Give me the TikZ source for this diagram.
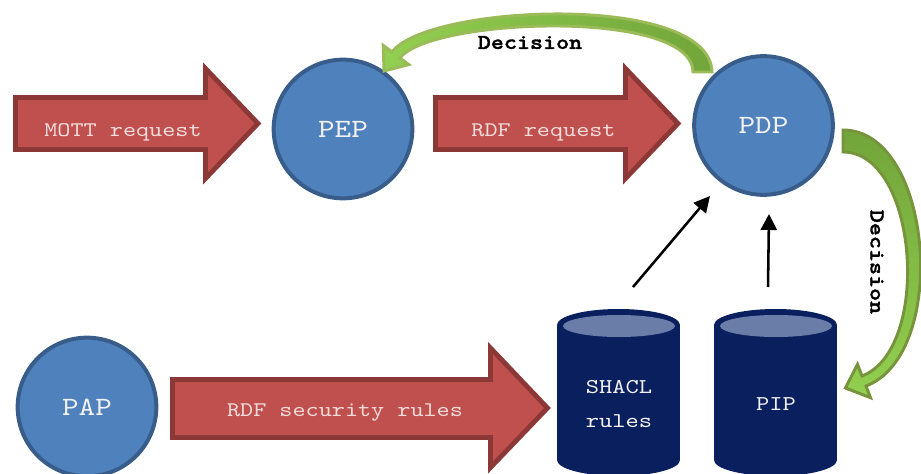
\documentclass[tikz,border=0pt]{standalone}
\usepackage{fontspec}
\setmainfont{Liberation Mono}
\newfontfamily\cour{lmmono10-regular.otf}[FakeStretch=1.2]
\newfontfamily\courb{lmmonolt10-bold.otf}[FakeStretch=1.18,FakeBold=1.5]
\usetikzlibrary{arrows.meta}
\definecolor{circfill}{HTML}{4F81BD}
\definecolor{circline}{HTML}{385D8A}
\definecolor{redfill}{HTML}{C0504D}
\definecolor{redline}{HTML}{8C3836}
\definecolor{navy}{HTML}{0A1F5E}
\definecolor{cyltop}{HTML}{6A7DA8}
\definecolor{gline}{HTML}{9BBB59}
\definecolor{gline2}{HTML}{77933C}
\definecolor{gdark}{HTML}{72A53A}
\definecolor{glight}{HTML}{92D050}
\definecolor{lighttext}{HTML}{F2F2F2}
\definecolor{pinktext}{HTML}{F2DCDB}
\begin{document}
\begin{tikzpicture}[x=0.75pt,y=-0.75pt,
  circ/.style={circle,draw=circline,fill=circfill,line width=3pt,inner sep=0pt,
    minimum size=104pt,text=lighttext,font=\cour\fontsize{19.8}{24}\selectfont},
  blockarr/.style={draw=redline,fill=redfill,line width=3.6pt,line join=miter},
  arrtext/.style={text=pinktext,font=\cour\fontsize{15.6}{19}\selectfont,inner sep=0pt},
  cyltext/.style={text=lighttext,font=\cour\fontsize{15.8}{19}\selectfont,inner sep=0pt},
  dectext/.style={text=black,font=\courb\fontsize{15.8}{19}\selectfont,inner sep=0pt},
  blackarr/.style={line width=1.9pt,-{Triangle[length=12pt,width=12pt]}}]
\useasboundingbox (0,0) rectangle (921,474);

% block arrows
\draw[blockarr] (15.5,97.5) -- (205.5,97.5) -- (205.5,68.5) -- (258,123.5) -- (205.5,178.5) -- (205.5,149.5) -- (15.5,149.5) -- cycle;
\node[arrtext] (mqtt) at (123,132.5) {MOTT request};

\draw[blockarr] (435.5,97.5) -- (625.5,97.5) -- (625.5,68.5) -- (678,123.5) -- (625.5,178.5) -- (625.5,149.5) -- (435.5,149.5) -- cycle;
\node[arrtext] (rdfreq) at (543.5,132) {RDF request};

\draw[blockarr] (172.5,379.5) -- (490.5,379.5) -- (490.5,348) -- (547.5,408) -- (490.5,467.5) -- (490.5,437.5) -- (172.5,437.5) -- cycle;
\node[arrtext] (rdfsec) at (345,413) {RDF security rules};

% circles
\node[circ] (pep) at (343,129) {PEP};
\node[circ] (pdp) at (763.5,125.5) {PDP};
\node[circ] (pap) at (87,407) {PAP};

% cylinders
\fill[navy] (557,325) rectangle (680,460);
\fill[navy] (618.5,460) ellipse [x radius=61.5, y radius=16];
\fill[navy] (618.5,325) ellipse [x radius=61.5, y radius=16];
\fill[cyltop] (619,326) ellipse [x radius=56, y radius=11];
\node[cyltext,align=center] (shacl) at (619,404) {SHACL\\[6pt]rules};

\fill[navy] (714,325) rectangle (837,460);
\fill[navy] (775.5,460) ellipse [x radius=61.5, y radius=16];
\fill[navy] (775.5,325) ellipse [x radius=61.5, y radius=16];
\fill[cyltop] (776,326) ellipse [x radius=56, y radius=11];
\node[cyltext] (pip) at (776,404) {PIP};

% black arrows
\coordinate (s1) at (633,287);
\coordinate (e1) at (710,196);
\coordinate (s2) at (768,287);
\coordinate (e2) at (769,214);
\draw[blackarr] (s1) -- (e1);
\draw[blackarr] (s2) -- (e2);

% curved decision arrows
\draw[draw=gline,line width=2.2pt,left color=glight,right color=gdark,line join=miter]
  (712,72) .. controls (710,-8) and (428,4) .. (392,52) -- (383.2,45.4) -- (384,71)
  -- (408.8,64.6) -- (400,58) .. controls (430,18) and (692,8) .. (693,72) -- cycle;
\node[dectext] (dec1) at (530,42.5) {Decision};

\draw[draw=gline2,line width=2.2pt,top color=gdark,bottom color=glight,line join=miter]
  (843,130) .. controls (933,130) and (950,354) .. (866,386) -- (870.5,397.7) -- (845.4,388)
  -- (857.5,364.3) -- (862,376) .. controls (932,349) and (918,152) .. (843,152) -- cycle;
\node[dectext,rotate=-90] (dec2) at (877,262) {Decision};
\end{tikzpicture}
\end{document}
